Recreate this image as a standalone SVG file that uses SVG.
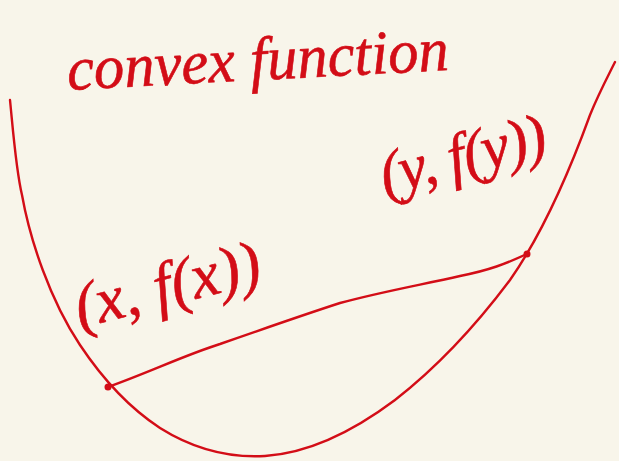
<svg xmlns="http://www.w3.org/2000/svg" width="619" height="461" viewBox="0 0 619 461">
<style>
.ink{fill:none;stroke:#d30d17;stroke-width:2.4;stroke-linecap:round;stroke-linejoin:round}
.lbl{font-family:"Liberation Serif",serif;font-style:italic;fill:#d30d17;stroke:#d30d17;stroke-width:0.6}
</style>
<rect width="619" height="461" fill="#f8f5ea"/>
<g id="connectors">
<path id="curve" class="ink" d="M10,100 C13,130 16,170 22,195 C30,240 50,300 80,345 C100,375 125,405 160,428 C195,450 230,458 265,456 C310,453 355,430 395,400 C440,365 480,320 510,280 C545,230 570,170 590,115 C598,95 607,78 615,62"/>
<path id="chord" class="ink" d="M108,387 C150,372 185,355 220,344 C260,330 300,316 340,303 C380,292 420,285 460,276 C490,270 505,264 527,254"/>
</g>
<g id="point-x"><circle cx="108" cy="387" r="3.5" fill="#d30d17"/></g>
<g id="point-y"><circle cx="527" cy="254" r="3.5" fill="#d30d17"/></g>
<g id="title"><text class="lbl" x="68" y="90" font-size="62" transform="rotate(-3 68 90)" textLength="382" lengthAdjust="spacingAndGlyphs">convex function</text></g>
<g id="label-x"><text class="lbl" x="80" y="328" font-size="64" transform="rotate(-14 80 328)" textLength="190">(x, f(x))</text></g>
<g id="label-y"><text class="lbl" x="385" y="195" font-size="62" transform="rotate(-14 385 195)" textLength="170">(y, f(y))</text></g>
</svg>
